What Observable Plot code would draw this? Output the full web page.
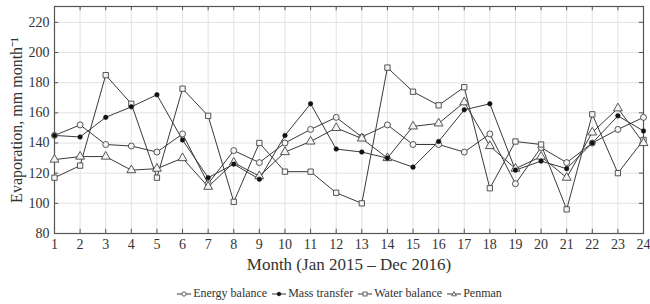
<!DOCTYPE html>
<html>
<head>
<meta charset="utf-8">
<script src="https://cdn.jsdelivr.net/npm/d3@7"></script>
<script src="https://cdn.jsdelivr.net/npm/@observablehq/plot@0.6"></script>
<style>
  body { margin: 0; background: #fff; font-family: "Liberation Serif", serif; }
  #wrap { position: relative; width: 650px; height: 304px; }
  #legend { position: absolute; top: 286px; left: 0; width: 684px; display: flex; justify-content: center; align-items: center; font-size: 12px; color: #333; }
  #legend .item { display: flex; align-items: center; margin-right: 5px; }
  #legend svg { margin-right: 2px; }
</style>
</head>
<body>
<div id="wrap"><div id="chart"></div><div id="legend"></div></div>
<script>
const months = [1,2,3,4,5,6,7,8,9,10,11,12,13,14,15,16,17,18,19,20,21,22,23,24];
const energyBalance = [145,152,139,138,134,146,113,135,127,140,149,157,144,152,139,139,134,146,113,137,127,140,149,157];
const massTransfer  = [145,144,157,164,172,142,117,126,116,145,166,136,134,130,124,141,162,166,122,128,123,140,158,148];
const waterBalance  = [117,125,185,166,117,176,158,101,140,121,121,107,100,190,174,165,177,110,141,139,96,159,120,142];
const penman        = [129,131,131,122,123,130,111,127,118,134,141,150,143,130,151,153,167,138,123,131,117,147,163,140];
const seriesNames = ["Energy balance","Mass transfer","Water balance","Penman"];
const yTicks = [80,100,120,140,160,180,200,220];
const xLabel = "Month (Jan 2015 \u2013 Dec 2016)";
const yLabel = "Evaporation, mm month\u207B\u00B9";

const seriesValues = [energyBalance, massTransfer, waterBalance, penman];
const data = [];
seriesNames.forEach((name, k) => months.forEach((m, i) => data.push({series: name, month: m, value: seriesValues[k][i]})));
const of = name => data.filter(d => d.series === name);

const lineColor = "#3a3a3a";
const markStroke = "#444";
const fontFamily = "Liberation Serif, serif";

const chart = Plot.plot({
  width: 650,
  height: 282,
  marginTop: 6,
  marginBottom: 49,
  marginLeft: 54,
  marginRight: 7,
  style: {fontFamily, background: "#fff", color: "#333", overflow: "visible"},
  x: {domain: [1, 24]},
  y: {domain: [80, 230.5]},
  marks: [
    Plot.gridX(months, {stroke: "#e2e2e2", strokeOpacity: 1, strokeWidth: 1}),
    Plot.gridY(yTicks, {stroke: "#e2e2e2", strokeOpacity: 1, strokeWidth: 1}),
    Plot.ruleX(months, {x: d => d, y1: 80, y2: 82.8, stroke: "#555"}),
    Plot.ruleX(months, {x: d => d, y1: 230.5, y2: 227.7, stroke: "#555"}),
    Plot.ruleY(yTicks, {y: d => d, x1: 1, x2: 1.16, stroke: "#555"}),
    Plot.ruleY(yTicks, {y: d => d, x1: 24, x2: 23.84, stroke: "#555"}),
    Plot.frame({stroke: "#555", strokeWidth: 1.2}),
    Plot.axisX(months, {tickSize: 0, tickPadding: 6, fontSize: 14, label: null, fill: "#333"}),
    Plot.axisY(yTicks, {tickSize: 0, tickPadding: 5, fontSize: 14, label: null, fill: "#333"}),
    Plot.text([xLabel], {frameAnchor: "bottom", dy: 36, fontSize: 17, fill: "#333"}),
    Plot.text([yLabel], {frameAnchor: "left", textAnchor: "middle", lineAnchor: "middle", dx: -38, rotate: -90, fontSize: 16, fill: "#333"}),
    ...seriesNames.map(name => Plot.line(of(name), {x: "month", y: "value", stroke: lineColor, strokeWidth: 1})),
    Plot.dot(of("Energy balance"), {x: "month", y: "value", symbol: "circle", r: 3, fill: "#f4f4f4", stroke: markStroke, strokeWidth: 0.9}),
    Plot.dot(of("Water balance"), {x: "month", y: "value", symbol: "square", r: 3, fill: "#f4f4f4", stroke: markStroke, strokeWidth: 0.9}),
    Plot.dot(of("Penman"), {x: "month", y: "value", symbol: "triangle", r: 3.3, fill: "#f4f4f4", stroke: markStroke, strokeWidth: 0.9}),
    Plot.dot(of("Mass transfer"), {x: "month", y: "value", symbol: "circle", r: 2.3, fill: "#111", stroke: "#111", strokeWidth: 0.5})
  ]
});
document.getElementById("chart").appendChild(chart);

// legend
const symbols = {"Energy balance": "circle", "Mass transfer": "dot", "Water balance": "square", "Penman": "triangle"};
const legend = document.getElementById("legend");
seriesNames.forEach(name => {
  const item = document.createElement("div");
  item.className = "item";
  const ns = "http://www.w3.org/2000/svg";
  const s = document.createElementNS(ns, "svg");
  s.setAttribute("width", "14"); s.setAttribute("height", "10");
  const l = document.createElementNS(ns, "line");
  l.setAttribute("x1", "0"); l.setAttribute("x2", "14"); l.setAttribute("y1", "5"); l.setAttribute("y2", "5");
  l.setAttribute("stroke", lineColor); l.setAttribute("stroke-width", "1");
  s.appendChild(l);
  let m;
  const t = symbols[name];
  if (t === "circle" || t === "dot") {
    m = document.createElementNS(ns, "circle");
    m.setAttribute("cx", "7"); m.setAttribute("cy", "5"); m.setAttribute("r", t === "dot" ? "1.8" : "2.2");
  } else if (t === "square") {
    m = document.createElementNS(ns, "rect");
    m.setAttribute("x", "5"); m.setAttribute("y", "3"); m.setAttribute("width", "4"); m.setAttribute("height", "4");
  } else {
    m = document.createElementNS(ns, "path");
    m.setAttribute("d", "M7,2.6L9.4,6.8L4.6,6.8Z");
  }
  m.setAttribute("fill", t === "dot" ? "#111" : "#f4f4f4");
  m.setAttribute("stroke", t === "dot" ? "#111" : markStroke);
  m.setAttribute("stroke-width", "0.8");
  s.appendChild(m);
  item.appendChild(s);
  const span = document.createElement("span");
  span.textContent = name;
  item.appendChild(span);
  legend.appendChild(item);
});
</script>
</body>
</html>
